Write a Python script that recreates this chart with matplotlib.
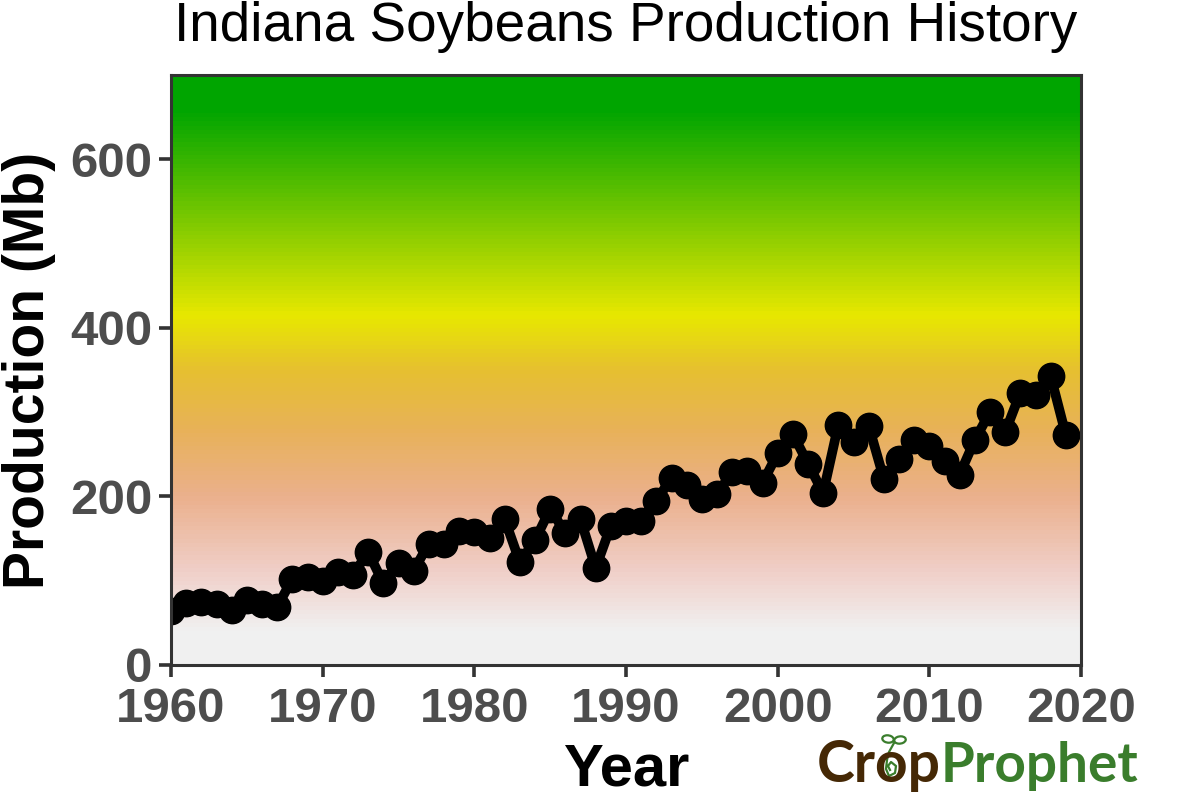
import numpy as np
import matplotlib
matplotlib.use("Agg")
import matplotlib.pyplot as plt
from matplotlib.colors import LinearSegmentedColormap
from matplotlib.lines import Line2D
from matplotlib.patches import Ellipse

plt.rcParams['font.family'] = ['Liberation Sans', 'DejaVu Sans']

years = list(range(1960, 2020))
production = [64, 74, 75, 72, 65, 77, 72, 69, 102, 105,
              100, 110, 107, 134, 97, 121, 112, 144, 144, 159,
              158, 151, 173, 122, 148, 185, 157, 173, 115, 165,
              171, 171, 195, 222, 214, 197, 203, 229, 230, 216,
              251, 274, 239, 204, 285, 264, 284, 221, 245, 267,
              260, 242, 226, 267, 300, 276, 323, 320, 343, 273]

x_ticks = [1960, 1970, 1980, 1990, 2000, 2010, 2020]
y_ticks = [0, 200, 400, 600]

# background gradient, value -> colour
grad_values = [0, 40, 110, 200, 280, 350, 415, 660, 700]
grad_colors = ["#f0f0f0", "#f0f0f0", "#f0cfc8", "#ebb08c", "#e8b258", "#e6c030", "#e8e800", "#00a500", "#00a500"]

fig = plt.figure(figsize=(12, 8), dpi=100)
ax = fig.add_axes([171 / 1200, 1 - 665 / 800, 910 / 1200, 590 / 800])

cmap = LinearSegmentedColormap.from_list(
    "soy", [(v / 700, c) for v, c in zip(grad_values, grad_colors)], N=140)
ax.imshow(np.linspace(0, 1, 140).reshape(-1, 1), origin="lower", aspect="auto",
          extent=[1960, 2020, 0, 700], cmap=cmap, vmin=0, vmax=1, interpolation="nearest")

ax.plot(years, production, color="black", lw=7, marker="o", ms=19, solid_joinstyle="round")

ax.set_xlim(1960, 2020)
ax.set_ylim(0, 700)
ax.set_xticks(x_ticks)
ax.set_yticks(y_ticks)
ax.tick_params(length=8.5, width=2.6, color="#333333", labelcolor="#4d4d4d", labelsize=35.5)
ax.tick_params(axis="x", pad=7)
ax.tick_params(axis="y", pad=5)
for lab in ax.get_xticklabels() + ax.get_yticklabels():
    lab.set_fontweight("bold")
for s in ax.spines.values():
    s.set_color("#333333")
    s.set_linewidth(2.2)

fig.text(626 / 1200, 1 - 41 / 800, "Indiana Soybeans Production History", fontsize=39.5, ha="center", va="baseline")
fig.text(29 / 1200, 1 - 370 / 800, "Production (Mb)", fontsize=41, fontweight="bold",
         rotation=90, ha="center", va="center")
fig.text(626 / 1200, 1 - 770 / 800, "Year", fontsize=43, fontweight="bold", ha="center", va="center")

# logo wordmark
brown = "#452805"
green = "#3a7d2c"
fig.text(817 / 1200, 1 - 782 / 800, "Crop", fontsize=41, color=brown, family="Lato", fontweight="bold", va="baseline")
fig.text(941 / 1200, 1 - 782 / 800, "Prophet", fontsize=39.5, color=green, family="Lato", fontweight="bold", va="baseline")
sx = np.array([894, 889, 887, 886, 889, 895, 896, 891, 888, 890]) / 1200
sy = 1 - np.array([743, 752, 760, 769, 776, 773, 766, 762, 766, 770]) / 800
fig.add_artist(Line2D(sx, sy, color=green, lw=1.6, transform=fig.transFigure))
for cx, cy, ang in [(888, 739, -40), (900, 740, 35)]:
    fig.add_artist(Ellipse((cx / 1200, 1 - cy / 800), 12 / 1200, 7 / 800, angle=ang,
                           fc="none", ec=green, lw=1.6, transform=fig.transFigure))

fig.savefig("out.png", dpi=100)
